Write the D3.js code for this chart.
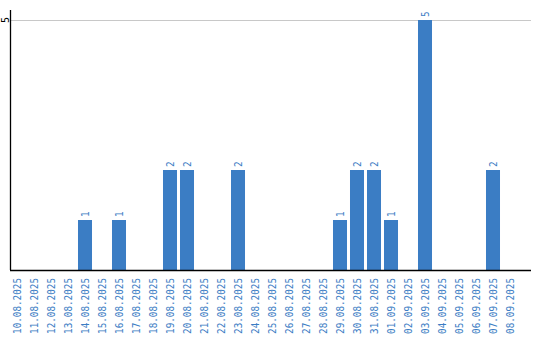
<!DOCTYPE html>
<html>
<head>
<meta charset="utf-8">
<script src="https://cdn.jsdelivr.net/npm/d3@7"></script>
<style>
  body { margin: 0; background: #fff; }
  svg { display: block; font-family: "DejaVu Sans Mono", "Liberation Mono", monospace; }
</style>
</head>
<body>
<script>
const dates = ["10.08.2025","11.08.2025","12.08.2025","13.08.2025","14.08.2025","15.08.2025",
  "16.08.2025","17.08.2025","18.08.2025","19.08.2025","20.08.2025","21.08.2025","22.08.2025",
  "23.08.2025","24.08.2025","25.08.2025","26.08.2025","27.08.2025","28.08.2025","29.08.2025",
  "30.08.2025","31.08.2025","01.09.2025","02.09.2025","03.09.2025","04.09.2025","05.09.2025",
  "06.09.2025","07.09.2025","08.09.2025"];
const counts = [0,0,0,0,1,0,1,0,0,2,2,0,0,2,0,0,0,0,0,1,2,2,1,0,5,0,0,0,2,0];
const yTicks = [5];

const width = 540, height = 340;
const blue = "#3b7dc4";

const svg = d3.select("body").append("svg")
  .attr("width", width)
  .attr("height", height);

const x = d3.scaleBand()
  .domain(dates)
  .range([8.5, 518.5])
  .paddingInner(0.176)
  .paddingOuter(0.088);

const y = d3.scaleLinear()
  .domain([0, 5])
  .range([270, 20]);

// gridline
svg.append("g")
  .selectAll("line")
  .data(yTicks)
  .join("line")
  .attr("x1", 11).attr("x2", 531)
  .attr("y1", d => y(d)).attr("y2", d => y(d))
  .attr("stroke", "#c8c8c8")
  .attr("stroke-width", 1)
  .attr("shape-rendering", "crispEdges");

// y tick labels
svg.append("g")
  .selectAll("text")
  .data(yTicks)
  .join("text")
  .attr("transform", d => `translate(8.5,${y(d)}) rotate(-90)`)
  .attr("text-anchor", "middle")
  .style("font-size", "10px")
  .attr("fill", "#000")
  .text(d => d);

// bars
const data = dates.map((d, i) => ({ date: d, value: counts[i] }));
svg.append("g")
  .selectAll("rect")
  .data(data.filter(d => d.value > 0))
  .join("rect")
  .attr("x", d => x(d.date))
  .attr("y", d => y(d.value))
  .attr("width", x.bandwidth())
  .attr("height", d => y(0) - y(d.value))
  .attr("fill", blue);

// bar value labels
svg.append("g")
  .selectAll("text")
  .data(data.filter(d => d.value > 0))
  .join("text")
  .attr("transform", d => `translate(${x(d.date) + x.bandwidth() / 2 + 3.8},${y(d.value) - 3}) rotate(-90) scale(0.886,1)`)
  .attr("text-anchor", "start")
  .style("font-size", "10.5px")
  .attr("fill", blue)
  .text(d => d.value);

// axes lines
svg.append("line")
  .attr("x1", 10.5).attr("x2", 10.5)
  .attr("y1", 10).attr("y2", 270)
  .attr("stroke", "#000").attr("stroke-width", 1.3);
svg.append("line")
  .attr("x1", 10).attr("x2", 531)
  .attr("y1", 270.5).attr("y2", 270.5)
  .attr("stroke", "#000").attr("stroke-width", 1.3);

// x tick labels
svg.append("g")
  .selectAll("text")
  .data(dates)
  .join("text")
  .attr("transform", d => `translate(${x(d) + x.bandwidth() / 2 + 3.8},278) rotate(-90) scale(0.886,1)`)
  .attr("text-anchor", "end")
  .style("font-size", "10.5px")
  .attr("fill", blue)
  .text(d => d);
</script>
</body>
</html>
